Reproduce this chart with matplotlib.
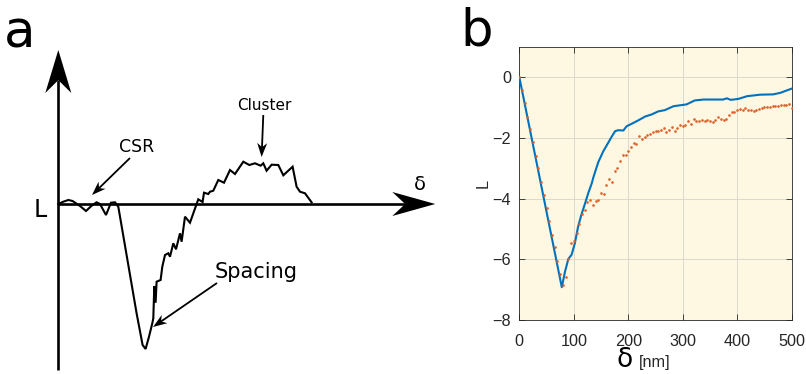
import numpy as np
import matplotlib
matplotlib.use("Agg")
import matplotlib.pyplot as plt
from matplotlib.patches import Polygon

# --- panel a: schematic L(delta) curve (arbitrary units, origin at axis crossing)
sketch_x = [0, 5, 10, 14.3, 21.7, 27.7, 33.3, 38.3, 41.7, 47.7, 52.7, 56.7, 60,
            78.3, 84.3, 87.3, 90.7, 94, 95, 96, 97.3, 98.3, 102.3, 104, 106.7,
            110, 111.7, 115, 117.7, 121.7, 123.3, 126.7, 131.7, 135, 140, 144.3,
            145.7, 150, 151.7, 155, 160, 165.7, 171.7, 176.7, 185, 191, 196.7,
            202.3, 205, 208.3, 213.3, 220, 225, 234.3, 238.3, 241.7, 246.7, 253.3]
sketch_L = [0, 2.3, 4, 3, -2, -7, -1.7, 1.7, 0, -11, 1.3, 1.7, -2.7,
            -109.3, -141, -145, -132.7, -119.3, -114.3, -82, -98.7, -77.7, -76,
            -62.7, -51, -49.3, -52.7, -39.3, -45.3, -29.3, -37.7, -12.7, -18.7,
            -9.3, 4.7, 2, 11.3, 10, 12.3, 13.3, 24, 21.3, 34, 30, 42.3, 39, 40.7,
            38.3, 40.7, 33.3, 39.3, 39, 28.7, 37.3, 17.3, 12.3, 10.7, 1.7]

# --- panel b: measured L(delta)
blue_x = [0, 78, 84, 90, 96, 102, 108, 114, 120, 127, 133, 136, 145, 154, 163,
          170, 176, 182, 191, 197, 206, 218, 231, 243, 255, 267, 283, 295, 307,
          322, 338, 356, 374, 381, 388, 402, 418, 442, 466, 479, 500]
blue_L = [0, -6.92, -6.4, -5.99, -5.85, -5.47, -4.92, -4.53, -4.2, -3.8, -3.5,
          -3.3, -2.8, -2.45, -2.17, -1.95, -1.78, -1.75, -1.76, -1.62, -1.54,
          -1.43, -1.3, -1.23, -1.13, -1.09, -0.96, -0.93, -0.9, -0.77, -0.74,
          -0.74, -0.74, -0.7, -0.75, -0.72, -0.63, -0.58, -0.57, -0.52, -0.38]

orange_x = list(range(0, 505, 5))
orange_L = [0, -0.43, -0.86, -1.3, -1.72, -2.15, -2.6, -3.0, -3.45, -3.88, -4.3,
            -4.75, -5.2, -5.6, -6.05, -6.5, -6.85, -6.6, -6.0, -5.45, -5.4,
            -5.15, -4.85, -4.5, -4.38, -4.1, -4.05, -4.2, -4.08, -4.05, -3.82,
            -3.84, -3.54, -3.36, -3.45, -3.1, -3.0, -2.75, -2.58, -2.55, -2.45,
            -2.3, -2.18, -2.22, -1.93, -2.05, -1.98, -1.92, -1.89, -1.81, -1.78,
            -1.76, -1.73, -1.68, -1.82, -1.74, -1.66, -1.76, -1.68, -1.57, -1.6,
            -1.58, -1.45, -1.53, -1.38, -1.46, -1.45, -1.4, -1.46, -1.43, -1.44,
            -1.47, -1.42, -1.32, -1.37, -1.42, -1.38, -1.24, -1.15, -1.14, -1.08,
            -1.04, -1.09, -1.02, -1.08, -1.07, -1.11, -1.07, -1.04, -1.01, -1.0,
            -1.0, -0.98, -0.96, -0.94, -0.96, -0.93, -0.93, -0.93, -0.88, -1.02]

x_ticks = [0, 100, 200, 300, 400, 500]
y_ticks = [-8, -6, -4, -2, 0]


def stealth_arrow(ax, start, tip, head_len, head_w, lw):
    """Line with a notched (stealth) arrow head at tip."""
    p0 = np.array(start, float)
    p1 = np.array(tip, float)
    d = (p1 - p0) / np.linalg.norm(p1 - p0)
    n = np.array([-d[1], d[0]])
    back = p1 - d * head_len
    notch = p1 - d * head_len * 0.7
    ax.plot([p0[0], notch[0]], [p0[1], notch[1]], color="black", lw=lw,
            solid_capstyle="butt")
    head = [p1, back + n * head_w / 2, notch, back - n * head_w / 2]
    ax.add_patch(Polygon(head, closed=True, color="black", lw=0))


fig = plt.figure(figsize=(8.06, 3.74), dpi=100)

# panel a axes: one unit == one pixel
ax_a = fig.add_axes([0, 0, 443 / 806, 1])
ax_a.set_xlim(-58.3, 443 - 58.3)
ax_a.set_ylim(-170, 204)
ax_a.axis("off")

stealth_arrow(ax_a, (0, -166), (0, 154), 43, 26, 1.9)
stealth_arrow(ax_a, (0, 0), (377, 0), 43, 24, 1.9)
ax_a.plot(sketch_x, sketch_L, color="black", lw=1.5, solid_joinstyle="miter")

ax_a.text(-18.3, -6, "L", fontsize=17, ha="center", va="center")
ax_a.text(361.7, 19, "δ", fontsize=14, ha="center", va="center")
ax_a.text(78.7, 57, "CSR", fontsize=12.5, ha="center", va="center")
ax_a.text(205.7, 99, "Cluster", fontsize=11, ha="center", va="center")
ax_a.text(197.7, -68, "Spacing", fontsize=15, ha="center", va="center")
stealth_arrow(ax_a, (71.7, 46), (33.7, 9), 14, 10, 1.3)
stealth_arrow(ax_a, (205, 89), (203.3, 47), 14, 10, 1.3)
stealth_arrow(ax_a, (158.7, -79), (94.7, -123), 14, 10, 1.3)

fig.text(20 / 806, 1 - 33 / 374, "a", fontsize=37, ha="center", va="center")
fig.text(477 / 806, 1 - 31 / 374, "b", fontsize=37, ha="center", va="center")

# panel b
ax_b = fig.add_axes([519.3 / 806, 1 - 320 / 374, 272.4 / 806, 273.3 / 374])
ax_b.set_facecolor("#fef7e2")
ax_b.plot(blue_x, blue_L, color="#0072BD", lw=1.5, zorder=3)
ax_b.plot(orange_x, orange_L, "o", color="#E0602A", markersize=1.9,
          markeredgewidth=0, zorder=4)
ax_b.set_xlim(0, 500)
ax_b.set_ylim(-8, 1)
ax_b.set_xticks(x_ticks)
ax_b.set_yticks(y_ticks)
ax_b.grid(True, color="#dcd8cc", lw=0.7)
ax_b.set_axisbelow(True)
ax_b.tick_params(direction="in", top=True, right=True, length=4, width=0.6,
                 colors="#262626", labelsize=11.7)
ax_b.tick_params(axis="x", pad=10)
ax_b.tick_params(axis="y", pad=6)
for lab in ax_b.get_xticklabels() + ax_b.get_yticklabels():
    lab.set_family("Liberation Sans")
for sp in ax_b.spines.values():
    sp.set_color("#262626")
    sp.set_linewidth(0.6)
ax_b.set_ylabel("L", fontsize=11.7, family="Liberation Sans", color="#262626",
                labelpad=1)
fig.text(625 / 806, 1 - 367 / 374, "δ", fontsize=19, ha="center",
         va="baseline", color="black")
fig.text(654.5 / 806, 1 - 363 / 374, "[nm]", fontsize=11.7, ha="center",
         va="center", family="Liberation Sans", color="#262626")

fig.savefig("out.png", dpi=100)
